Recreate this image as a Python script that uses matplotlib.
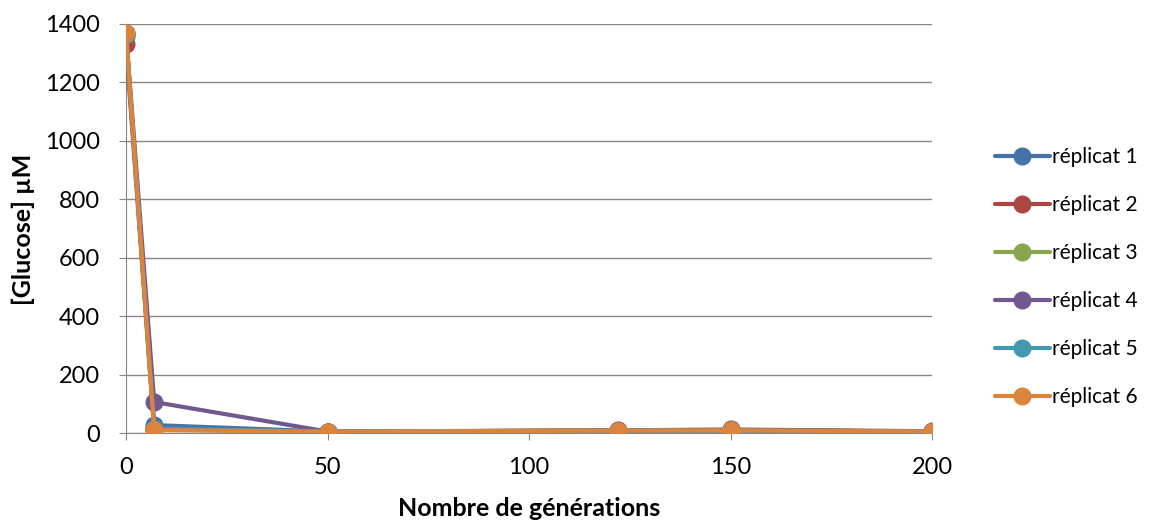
import matplotlib
matplotlib.use("Agg")
import matplotlib.pyplot as plt

plt.rcParams['font.family'] = ['Lato', 'DejaVu Sans']

generations = [0, 7, 50, 122, 150, 200]
rep1 = [1360, 27, 5, 8, 9, 5]
rep2 = [1330, 12, 5, 9, 12, 6]
rep3 = [1365, 12, 5, 8, 9, 5]
rep4 = [1368, 106, 5, 8, 10, 5]
rep5 = [1362, 15, 5, 8, 9, 5]
rep6 = [1370, 10, 5, 8, 9, 5]
series = [rep1, rep2, rep3, rep4, rep5, rep6]
labels = ["réplicat 1", "réplicat 2", "réplicat 3", "réplicat 4", "réplicat 5", "réplicat 6"]
colors = ["#4573A7", "#AA4643", "#89A54E", "#71588F", "#4198AF", "#DB843D"]

fig = plt.figure(figsize=(11.62, 5.28), dpi=100)
ax = fig.add_axes([126/1162, 1-433/528, (932-126)/1162, (433-24)/528])

handles = []
for vals, lab, c in zip(series, labels, colors):
    h, = ax.plot(generations, vals, color=c, lw=3, marker='o', ms=12,
                 markeredgecolor=c, label=lab, solid_capstyle='round', zorder=3)
    handles.append(h)

ax.set_xlim(0, 200)
ax.set_ylim(0, 1400)
ax.set_xticks([0, 50, 100, 150, 200])
ax.set_yticks(range(0, 1401, 200))
ax.yaxis.grid(True, color='#868686', lw=1)
ax.set_axisbelow(True)
for s in ['top', 'right']:
    ax.spines[s].set_visible(False)
for s in ['left', 'bottom']:
    ax.spines[s].set_color('#868686')
ax.tick_params(axis='x', direction='out', length=5, color='#868686', labelsize=17, pad=12)
ax.tick_params(axis='y', direction='out', length=5, color='#868686', labelsize=17, pad=14)
for lab in ax.get_xticklabels() + ax.get_yticklabels():
    lab.set_clip_on(False)
ax.set_xlabel("Nombre de générations", fontsize=18, fontweight='bold')
ax.set_ylabel("[Glucose] µM", fontsize=18, fontweight='bold')
ax.xaxis.set_label_coords((529-126)/(932-126), -(508-433)/(433-24))
ax.yaxis.set_label_coords(-(126-23)/(932-126), (433-229)/(433-24))
ax.xaxis.label.set_va('center')
ax.yaxis.label.set_va('center')

leg = fig.legend(handles=handles, labels=labels, loc='center left',
                 bbox_to_anchor=(987/1162, 1-277/528), frameon=False,
                 fontsize=15, handlelength=2.6, handletextpad=0.1,
                 labelspacing=1.34, borderaxespad=0)

fig.savefig("out.png", dpi=100)
